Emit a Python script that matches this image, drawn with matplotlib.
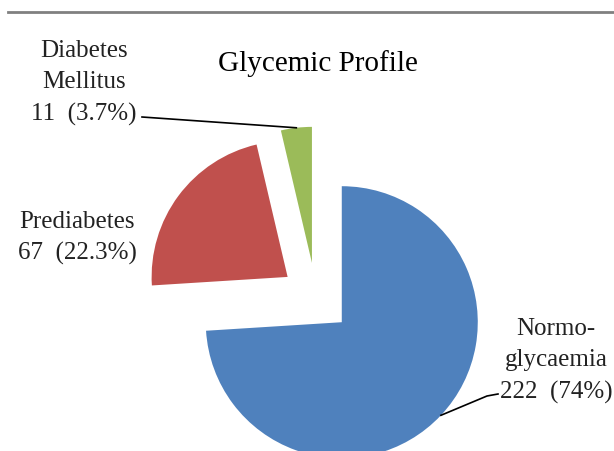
import matplotlib.pyplot as plt
import numpy as np

categorias = ['Normo-\nglycaemia', 'Prediabetes', 'Diabetes\nMellitus']
contagens = [222, 67, 11]
percentuais = ['74%', '22.3%', '3.7%']
cores = ['#4F81BD', '#C0504D', '#9BBB59']

plt.rcParams['font.family'] = ['Liberation Serif', 'DejaVu Serif']

W, H = 614, 452
fig = plt.figure(figsize=(W / 100, H / 100), dpi=100)
# eixo ocupando a figura toda, 1 unidade = raio da pizza
raio_px = 136
cx, cy = 316, 299  # centro em pixels (y para baixo)
ax = fig.add_axes([0, 0, 1, 1])
fatias, _ = ax.pie(contagens, colors=cores, startangle=90, counterclock=False,
                   explode=[0.26] * 3, radius=1, center=(0, 0))
ax.set_xlim(-cx / raio_px, (W - cx) / raio_px)
ax.set_ylim((cy - H) / raio_px, cy / raio_px)
ax.set_aspect('auto')
ax.axis('off')

# linha cinza no topo
fig.add_artist(plt.Line2D([8 / W, 1], [1 - 13 / H, 1 - 13 / H], color='#808080', lw=2))

def px(x, y):
    return x / W, 1 - y / H

fig.text(*px(318, 64), 'Glycemic Profile', ha='center', va='center', fontsize=21)

rotulos = [f'{c}\n{n}  ({p})' for c, n, p in zip(categorias, contagens, percentuais)]
pos_rotulos = [(556, 361), (77, 238), (84, 83)]
for r, (x, y) in zip(rotulos, pos_rotulos):
    fig.text(*px(x, y), r, ha='center', va='center', fontsize=18, linespacing=1.55,
             color='#222222')

# linhas guia ligando ao meio do arco da fatia
def ponto_fatia(w, frac):
    ang = np.deg2rad(w.theta1 + (w.theta2 - w.theta1) * frac)
    return w.center[0] + w.r * np.cos(ang), w.center[1] + w.r * np.sin(ang)

def para_dados(x, y):
    return ax.transData.inverted().transform(fig.transFigure.transform(px(x, y)))

g = ponto_fatia(fatias[2], 0.5)
p0 = para_dados(142, 118)
ax.plot([p0[0], g[0]], [p0[1], g[1]], color='black', lw=1.2)

b = ponto_fatia(fatias[0], 0.5)
p1 = para_dados(498, 395)
p2 = para_dados(487, 397)
ax.plot([p1[0], p2[0], b[0]], [p1[1], p2[1], b[1]], color='black', lw=1.2)

fig.savefig('out.png', dpi=100)
